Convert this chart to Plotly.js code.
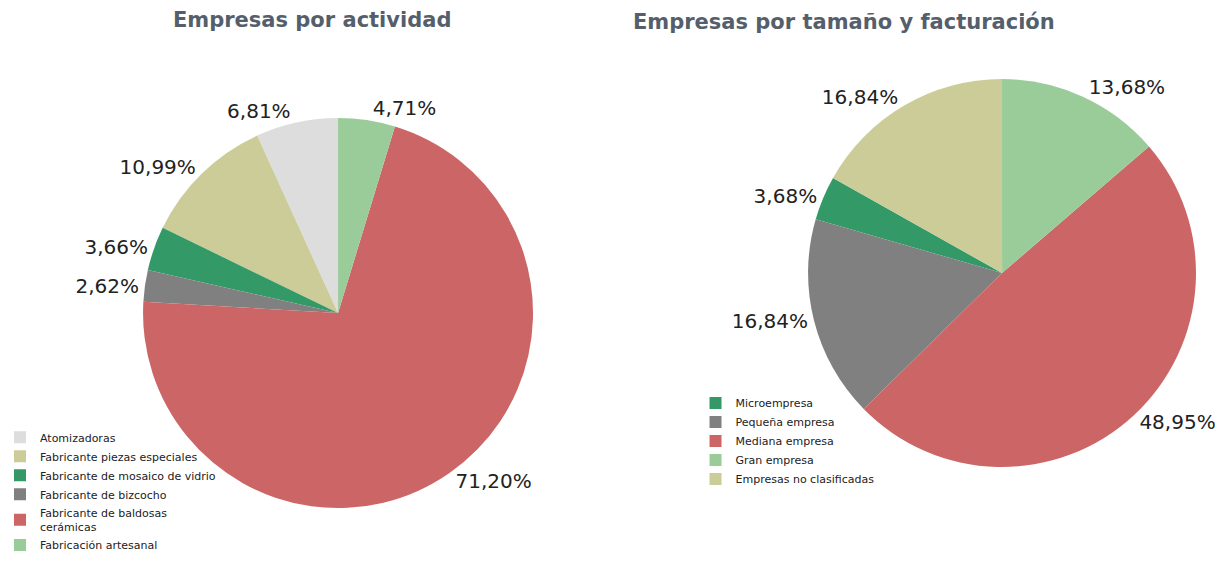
<!DOCTYPE html>
<html>
<head>
<meta charset="utf-8">
<script src="https://cdn.plot.ly/plotly-3.0.1.min.js"></script>
<style>
  html, body { margin: 0; padding: 0; background: #fff; }
  #chart { width: 1231px; height: 573px; }
</style>
</head>
<body>
<div id="chart"></div>
<script>
// Empresas por actividad (orden de la leyenda)
var actividadLabels = ['Atomizadoras', 'Fabricante piezas especiales', 'Fabricante de mosaico de vidrio',
  'Fabricante de bizcocho', 'Fabricante de baldosas<br>cerámicas', 'Fabricación artesanal'];
var actividadValues = [6.81, 10.99, 3.66, 2.62, 71.20, 4.71];
var actividadColors = ['#dddddd', '#cccc99', '#339966', '#808080', '#cc6666', '#99cc99'];

// Empresas por tamaño y facturación
var tamanoLabels = ['Microempresa', 'Pequeña empresa', 'Mediana empresa', 'Gran empresa', 'Empresas no clasificadas'];
var tamanoValues = [3.68, 16.84, 48.95, 13.68, 16.84];
var tamanoColors = ['#339966', '#808080', '#cc6666', '#99cc99', '#cccc99'];

function sum(a) { return a.reduce(function (s, v) { return s + v; }, 0); }

var labelFont = {family: 'DejaVu Sans, Verdana, sans-serif', size: 20, color: '#222'};

// en sentido antihorario plotly coloca el primer sector terminando en "rotation"
var trace1 = {
  type: 'pie',
  labels: actividadLabels,
  values: actividadValues,
  marker: {colors: actividadColors, line: {width: 0}},
  sort: false,
  direction: 'counterclockwise',
  rotation: -360 * actividadValues[0] / sum(actividadValues),
  textposition: 'outside',
  texttemplate: '%{value:.2f}%',
  outsidetextfont: labelFont,
  hoverinfo: 'label+value',
  domain: {x: [0.1162, 0.433], y: [0.1134, 0.794]},
  legend: 'legend'
};

var trace2 = {
  type: 'pie',
  labels: tamanoLabels,
  values: tamanoValues,
  marker: {colors: tamanoColors, line: {width: 0}},
  sort: false,
  direction: 'counterclockwise',
  // "no clasificadas" va desde las 12 hacia la izquierda, luego micro
  rotation: -360 * (tamanoValues[4] + tamanoValues[0]) / sum(tamanoValues),
  textposition: 'outside',
  texttemplate: '%{value:.2f}%',
  outsidetextfont: labelFont,
  hoverinfo: 'label+value',
  domain: {x: [0.6564, 0.9716], y: [0.185, 0.862]},
  legend: 'legend2'
};

var titleFont = {family: 'DejaVu Sans, Arial Black, sans-serif', size: 21, color: '#555f6c', weight: 'bold'};
var legendFont = {family: 'DejaVu Sans, Verdana, sans-serif', size: 11, color: '#222'};

var layout = {
  width: 1231,
  height: 573,
  margin: {l: 0, r: 0, t: 0, b: 0},
  separators: ',.',
  paper_bgcolor: '#fff',
  showlegend: true,
  legend: {x: 0, y: 0.262, xanchor: 'left', yanchor: 'top', font: legendFont, bgcolor: 'rgba(0,0,0,0)'},
  legend2: {x: 0.565, y: 0.322, xanchor: 'left', yanchor: 'top', font: legendFont, bgcolor: 'rgba(0,0,0,0)'},
  annotations: [
    {text: 'Empresas por actividad', x: 0.2535, y: 0.965, xref: 'paper', yref: 'paper',
      xanchor: 'center', yanchor: 'middle', showarrow: false, font: titleFont},
    {text: 'Empresas por tamaño y facturación', x: 0.686, y: 0.962, xref: 'paper', yref: 'paper',
      xanchor: 'center', yanchor: 'middle', showarrow: false, font: titleFont}
  ]
};

Plotly.newPlot('chart', [trace1, trace2], layout, {displayModeBar: false});
</script>
</body>
</html>
